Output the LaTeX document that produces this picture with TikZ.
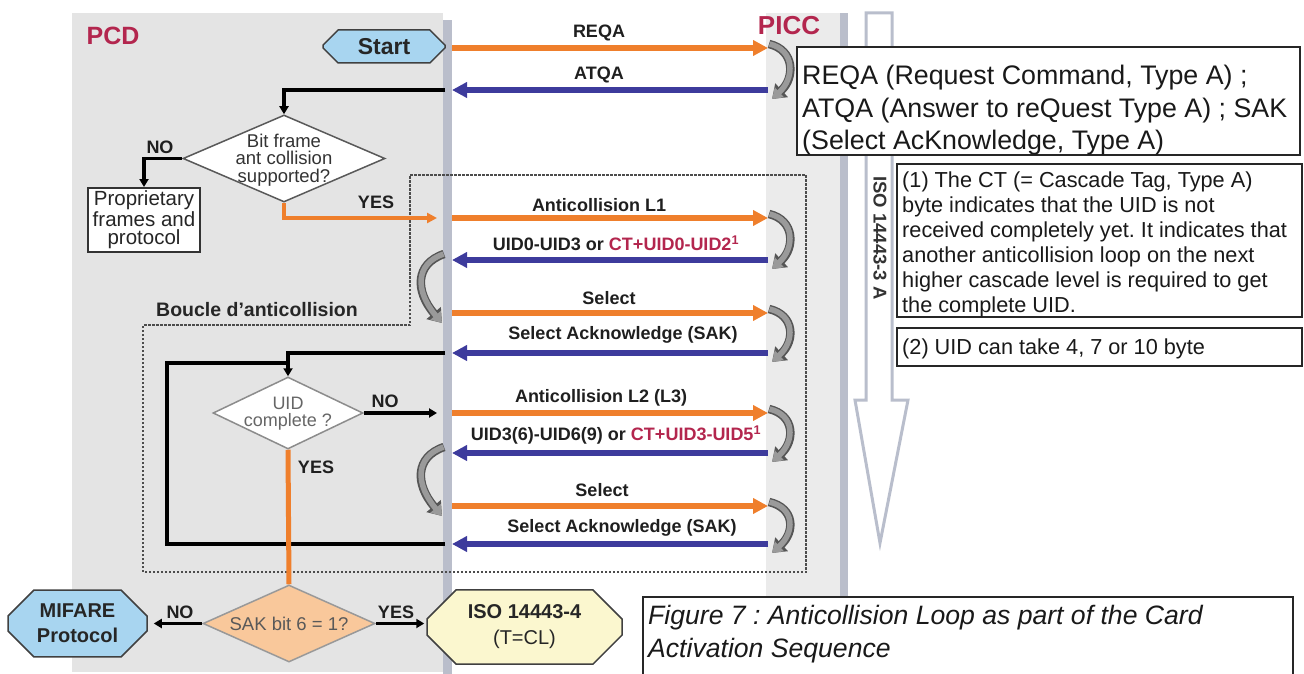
\documentclass[tikz,border=0pt]{standalone}
\usepackage{fontspec}
\setmainfont{Liberation Sans}
\usetikzlibrary{arrows.meta,shapes.geometric,shapes.misc,calc}
\newcommand{\myfs}[2]{\fontsize{#1}{#2}\selectfont}
\frenchspacing
\definecolor{panelgray}{HTML}{E4E4E4}
\definecolor{piccgray}{HTML}{EBEBEB}
\definecolor{lifegray}{HTML}{BABECB}
\definecolor{orangeA}{HTML}{EF7F2C}
\definecolor{blueA}{HTML}{3D3B9C}
\definecolor{crim}{HTML}{B3264E}
\definecolor{skyA}{HTML}{A8D5F0}
\definecolor{isoY}{HTML}{FBF7CF}
\definecolor{sakO}{HTML}{F9C89B}
\definecolor{grayarr}{HTML}{9A9A9A}
\definecolor{grayout}{HTML}{555555}
\definecolor{bigarr}{HTML}{B9BECC}
\newcommand{\picccurve}[2]{%
\draw[carrout] ($(#1)+(1,-4)$) .. controls ($(#1)+(27,2)$) and ($(#2)+(27,-12)$) .. ($(#2)+(4,9)$);
\draw[carr] ($(#1)+(1.5,-4)$) .. controls ($(#1)+(27,2)$) and ($(#2)+(27,-12)$) .. ($(#2)+(4,9)$);}
\newcommand{\pcdcurve}[2]{%
\draw[carrout] ($(#1)+(-1,-6)$) .. controls ($(#1)+(-30,4)$) and ($(#2)+(-30,-22)$) .. ($(#2)+(-3,10)$);
\draw[carr] ($(#1)+(-1.5,-6)$) .. controls ($(#1)+(-30,4)$) and ($(#2)+(-30,-22)$) .. ($(#2)+(-3,10)$);}
\begin{document}
\begin{tikzpicture}[x=1pt,y=-1pt,
  lbl/.style={font=\myfs{18}{20}\bfseries, text=black!88, inner sep=0pt},
  oarr/.style={draw=orangeA, line width=6.5pt, -{Triangle[length=15pt,width=15pt]}},
  barr/.style={draw=blueA, line width=6.5pt, -{Triangle[length=15pt,width=15pt]}},
  flow/.style={draw=black, line width=3.5pt, -{Triangle[length=8pt,width=9pt]}},
  fline/.style={draw=black, line width=3.5pt},
  oflow/.style={draw=orangeA, line width=4.5pt, -{Triangle[length=10pt,width=10pt]}},
  oline/.style={draw=orangeA, line width=5pt},
  carrout/.style={draw=grayout, line width=8.5pt, -{Triangle[length=13pt,width=18pt]}},
  carr/.style={draw=grayarr, line width=5.5pt, -{Triangle[length=10pt,width=13pt]}},
  note/.style={draw=black!85, line width=1.5pt, fill=white},
  notetext/.style={anchor=north west, inner sep=0pt, align=left, text=black!90},
  dia/.style={diamond, line width=1.5pt, inner sep=0pt},
  term/.style={chamfered rectangle, draw=black!75, line width=1.5pt, inner sep=0pt, align=center},
]
\useasboundingbox (0,0) rectangle (1304,674);
% panels and lifelines
\fill[panelgray] (72,13) rectangle (443,672);
\fill[piccgray] (766,13) rectangle (840,597);
\fill[lifegray] (443,20) rectangle (452,674);
\fill[lifegray] (840,13) rectangle (848,597);
\node[font=\myfs{25}{28}\bfseries, text=crim, inner sep=0pt] (pcd) at (113,36) {PCD};
\node[font=\myfs{26}{28}\bfseries, text=crim, inner sep=0pt] (picc) at (789,26) {PICC};
% big hollow arrow
\draw[draw=bigarr, line width=3pt, fill=white, line join=miter]
  (866,13) -- (892,13) -- (892,400) -- (908,400) -- (880,543) -- (855,400) -- (866,400) -- cycle;
\node[font=\myfs{18.5}{20}\bfseries, text=black!80, rotate=-90, inner sep=0pt] (iso3) at (880,238) {ISO 14443-3 A};
% dashed loop box
\draw[draw=black!70, line width=1.3pt, dash pattern=on 2.5pt off 1.5pt]
  (410,175) -- (806,175) -- (806,572) -- (143,572) -- (143,325) -- (410,325) -- cycle;
\node[font=\myfs{19.5}{22}\bfseries, text=black!85, inner sep=0pt] (boucle) at (257,310) {Boucle d'anticollision};
% lifeline coordinates
\foreach \n/\yy in {reqa/48,atqa/90,ac1/218,uid1/260,sel1/313,sak1/353,ac2/413,uid2/453,sel2/506,sak2/544}{
  \coordinate (pr-\n) at (452,\yy);
  \coordinate (pl-\n) at (445,\yy);
  \coordinate (cl-\n) at (768,\yy);
}
% messages
\draw[oarr] (pr-reqa) -- (cl-reqa);
\draw[barr] (cl-atqa) -- (pr-atqa);
\draw[oarr] (pr-ac1) -- (cl-ac1);
\draw[barr] (cl-uid1) -- (pr-uid1);
\draw[oarr] (pr-sel1) -- (cl-sel1);
\draw[barr] (cl-sak1) -- (pr-sak1);
\draw[oarr] (pr-ac2) -- (cl-ac2);
\draw[barr] (cl-uid2) -- (pr-uid2);
\draw[oarr] (pr-sel2) -- (cl-sel2);
\draw[barr] (cl-sak2) -- (pr-sak2);
\node[lbl] (l-reqa) at (599,33) {REQA};
\node[lbl] (l-atqa) at (599,75) {ATQA};
\node[lbl] (l-ac1) at (599,205) {Anticollision L1};
\node[lbl] (l-uid1) at (616,243) {UID0-UID3 or \textcolor{crim}{CT+UID0-UID2\textsuperscript{1}}};
\node[lbl] (l-sel1) at (609,298) {Select};
\node[lbl] (l-sak1) at (623,335) {Select Acknowledge (SAK)};
\node[lbl] (l-ac2) at (601,398) {Anticollision L2 (L3)};
\node[lbl] (l-uid2) at (616,435) {UID3(6)-UID6(9) or \textcolor{crim}{CT+UID3-UID5\textsuperscript{1}}};
\node[lbl] (l-sel2) at (602,490) {Select};
\node[lbl] (l-sak2) at (622,528) {Select Acknowledge (SAK)};
% gray turn arrows
\picccurve{cl-reqa}{cl-atqa}
\picccurve{cl-ac1}{cl-uid1}
\picccurve{cl-sel1}{cl-sak1}
\picccurve{cl-ac2}{cl-uid2}
\picccurve{cl-sel2}{cl-sak2}
\pcdcurve{pl-uid1}{pl-sel1}
\pcdcurve{pl-uid2}{pl-sel2}
% start
\node[term, fill=skyA, minimum width=122pt, minimum height=33pt, chamfered rectangle xsep=9pt, chamfered rectangle ysep=7pt, font=\myfs{23}{25}\bfseries, text=black!85] (start) at (384,46.5) {Start};
% decision 1
\node[dia, draw=black!65, fill=white, minimum width=202pt, minimum height=87pt] (d1) at (284,158.5) {};
\node[font=\myfs{18.5}{17.5}, text=black!80, align=center, inner sep=0pt] (d1t) at (284,160) {Bit frame\\ant collision\\supported?};
\node[draw=black!80, line width=2pt, fill=white, minimum width=112pt, minimum height=64pt, inner sep=0pt, align=center, font=\myfs{20.5}{18.5}, text=black!85] (prop) at (144,220) {Proprietary\\frames and\\protocol};
\draw[flow] (pl-atqa) -| (d1.north);
\draw[flow] (d1.west) -| (prop.north);
\node[lbl] (no1) at (160,147) {NO};
\coordinate (yes1end) at (437,218);
\draw[oflow] (d1.south) |- (yes1end);
\node[lbl] (yes1) at (376,202) {YES};
% decision 2
\node[dia, draw=black!45, fill=white, minimum width=150pt, minimum height=72pt] (d2) at (288,413) {};
\node[font=\myfs{18}{17}, text=black!60, align=center, inner sep=0pt] (d2t) at (288,414) {UID\\complete ?};
\draw[flow] (pl-sak1) -| (d2.north);
\coordinate (loopc) at (167,363);
\coordinate (loopj) at (288,363);
\draw[fline] (pl-sak2) -| (loopc) -- (loopj);
\coordinate (no2end) at (437,413);
\draw[flow] (d2.east) -- (no2end);
\node[lbl] (no2) at (385,401) {NO};
% decision 3
\node[dia, draw=black!40, fill=sakO, minimum width=172pt, minimum height=77pt] (d3) at (289,623.5) {};
\node[font=\myfs{18.5}{20}, text=black!65, inner sep=0pt] (d3t) at (289,624) {SAK bit 6 = 1?};
\draw[oline] (d2.south) -- (d3.north);
\node[lbl] (yes2) at (316,467) {YES};
\node[term, fill=skyA, minimum width=139pt, minimum height=53pt, chamfered rectangle xsep=12pt, chamfered rectangle ysep=14pt, font=\myfs{20}{25}\bfseries, text=black!85] (mif) at (77.5,623.5) {MIFARE\\Protocol};
\node[term, fill=isoY, minimum width=195pt, minimum height=55pt, chamfered rectangle xsep=14pt, chamfered rectangle ysep=15pt, font=\myfs{20}{26}, text=black!85] (iso4) at (524.5,627) {\textbf{ISO 14443-4}\\(T=CL)};
\draw[flow, line width=3pt, shorten >=6pt] (d3.west) -- (d3.west -| mif.east);
\draw[flow, line width=3pt, shorten >=2pt] (d3.east) -- (d3.east -| iso4.west);
\node[lbl] (no3) at (180,612) {NO};
\node[lbl] (yes3) at (396,612) {YES};
% notes
\draw[note] (797,47) rectangle (1300,155);
\node[notetext, font=\myfs{26.8}{32.5}] (n1) at (802,65) {REQA (Request Command, Type A) ;\\ATQA (Answer to reQuest Type A) ; SAK\\(Select AcKnowledge, Type A)};
\draw[note] (897,164) rectangle (1302,317);
\node[notetext, font=\myfs{21.7}{25}] (n2) at (902,172) {(1) The CT (= Cascade Tag, Type A)\\byte indicates that the UID is not\\received completely yet. It indicates that\\another anticollision loop on the next\\higher cascade level is required to get\\the complete UID.};
\draw[note] (897,328) rectangle (1302,366);
\node[notetext, font=\myfs{21.7}{25}] (n3) at (902,339) {(2) UID can take 4, 7 or 10 byte};
\draw[note] (643,676) -- (643,597) -- (1293,597) -- (1293,676);
\node[notetext, font=\myfs{26.6}{33}\itshape] (cap) at (648,605) {Figure 7 : Anticollision Loop as part of the Card\\Activation Sequence};
\end{tikzpicture}
\end{document}
